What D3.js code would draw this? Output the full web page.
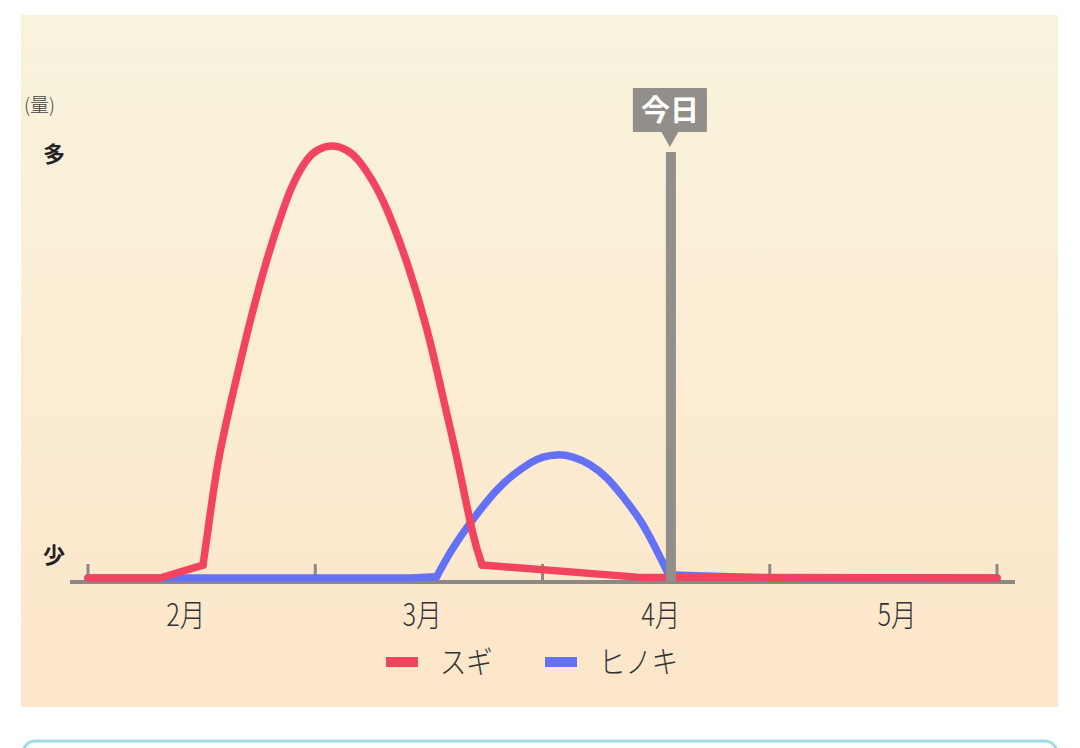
<!DOCTYPE html>
<html lang="ja">
<head>
    <meta charset="utf-8">
    <title>花粉の飛散量</title>
    <style>
        body { margin: 0; background: #fff; font-family: "Noto Sans CJK JP", sans-serif; }
    </style>
    <script type="text/javascript" src="https://d3js.org/d3.v7.min.js"></script>
</head>
<body>
    <div class="chart"></div>

    <script type="text/javascript">
        // DATA ------------------------------
        // x in month units (0 = left tick), y = relative amount 0..100
        const monthTicks = [0, 1, 2, 3, 4];
        const monthLabels = ["2月", "3月", "4月", "5月"];
        const monthLabelPos = [0.43, 1.47, 2.52, 3.56];

        const sugiX = [0, 0.317,
                       0.506, 0.528, 0.572, 0.634, 0.704, 0.783, 0.858, 0.911, 0.964, 1.012, 1.074,
                       1.135, 1.188, 1.250, 1.316, 1.404, 1.492, 1.562, 1.628, 1.690, 1.734,
                       2.416, 4];
        const sugiY = [0, 0,
                       3.0, 11.1, 26.6, 41.9, 57.4, 72.9, 85.2, 92.1, 96.8, 99.1, 100,
                       99.1, 96.8, 92.1, 85.2, 72.9, 57.4, 41.9, 26.6, 11.1, 3.0,
                       0.2, 0];
        const sugiSmooth = [2, 22];   // index range drawn as a smooth hump

        const hinokiX = [0, 1.417,
                         1.534, 1.593, 1.650, 1.725, 1.800, 1.870, 1.945, 2.002, 2.064,
                         2.134, 2.209, 2.284, 2.354, 2.429, 2.486, 2.530, 2.561,
                         2.570, 3.001, 4];
        const hinokiY = [0, 0,
                         0.3, 5.8, 10.4, 15.7, 20.4, 23.8, 26.6, 28.0, 28.5,
                         28.0, 26.2, 23.1, 18.8, 13.4, 8.1, 3.5, 0.2,
                         0.7, 0, 0];
        const hinokiSmooth = [2, 18];

        const seriesNames = ["スギ", "ヒノキ"];
        const seriesColors = ["#f2445f", "#6571f5"];

        const todayPos = 2.565;
        const todayTop = 98.6;
        const todayLabel = "今日";

        // CHART -----------------------------
        const W = 1080, H = 748;
        const svg = d3.select(".chart").append("svg")
            .attr("width", W)
            .attr("height", H);

        const defs = svg.append("defs");
        const grad = defs.append("linearGradient")
            .attr("id", "bg").attr("x1", 0).attr("y1", 0).attr("x2", 0).attr("y2", 1);
        grad.append("stop").attr("offset", "0%").attr("stop-color", "#f8f3dd");
        grad.append("stop").attr("offset", "100%").attr("stop-color", "#fde6c9");

        // panel
        svg.append("rect")
            .attr("x", 21).attr("y", 15)
            .attr("width", 1037).attr("height", 692)
            .attr("fill", "url(#bg)");

        // next box peeking in at the bottom
        svg.append("rect")
            .attr("x", 23).attr("y", 741)
            .attr("width", 1034).attr("height", 60)
            .attr("rx", 12)
            .attr("fill", "#fdfefe")
            .attr("stroke", "#a3dbe5")
            .attr("stroke-width", 3);

        const x = d3.scaleLinear().domain([0, 4]).range([88, 997]);
        const y = d3.scaleLinear().domain([0, 100]).range([578, 146]);

        const axisY = y(0) + 4;
        const grey = "#8c8885";

        // axis line
        svg.append("line")
            .attr("x1", 70).attr("x2", 1015)
            .attr("y1", axisY).attr("y2", axisY)
            .attr("stroke", grey).attr("stroke-width", 4);

        svg.selectAll(".tick")
            .data(monthTicks)
            .join("line")
            .attr("class", "tick")
            .attr("x1", d => x(d)).attr("x2", d => x(d))
            .attr("y1", axisY).attr("y2", axisY - 18)
            .attr("stroke", grey).attr("stroke-width", 3);

        svg.selectAll(".mlabel")
            .data(monthLabels)
            .join("text")
            .attr("class", "mlabel")
            .attr("transform", (d, i) => `translate(${x(monthLabelPos[i])},${axisY + 44}) scale(0.82,1)`)
            .attr("text-anchor", "middle")
            .attr("font-size", 31)
            .attr("font-weight", 300)
            .attr("fill", "#333")
            .text(d => d);

        // y labels
        svg.append("text")
            .attr("x", 24).attr("y", 112)
            .attr("font-size", 19)
            .attr("font-weight", 300)
            .attr("fill", "#444")
            .text("(量)");
        svg.append("text")
            .attr("x", 54).attr("y", y(100) + 16)
            .attr("text-anchor", "middle")
            .attr("font-size", 22).attr("font-weight", 700)
            .attr("fill", "#222")
            .text("多");
        svg.append("text")
            .attr("x", 54).attr("y", y(0) - 15)
            .attr("text-anchor", "middle")
            .attr("font-size", 22).attr("font-weight", 700)
            .attr("fill", "#222")
            .text("少");

        // curves: straight feet, smooth hump
        const straight = d3.line()
            .x(d => x(d[0]))
            .y(d => y(d[1]));
        const smooth = d3.line()
            .x(d => x(d[0]))
            .y(d => y(d[1]))
            .curve(d3.curveNatural);

        function drawSeries(xs, ys, range, color) {
            const pts = xs.map((v, i) => [v, ys[i]]);
            const parts = [
                [straight, pts.slice(0, range[0] + 1)],
                [smooth, pts.slice(range[0], range[1] + 1)],
                [straight, pts.slice(range[1])]
            ];
            const g = svg.append("g");
            parts.forEach(p => {
                g.append("path")
                    .datum(p[1])
                    .attr("d", p[0])
                    .attr("fill", "none")
                    .attr("stroke", color)
                    .attr("stroke-width", 7.5)
                    .attr("stroke-linejoin", "round")
                    .attr("stroke-linecap", "round");
            });
        }

        drawSeries(hinokiX, hinokiY, hinokiSmooth, seriesColors[1]);
        drawSeries(sugiX, sugiY, sugiSmooth, seriesColors[0]);

        // today marker
        const tx = x(todayPos);
        svg.append("line")
            .attr("x1", tx).attr("x2", tx)
            .attr("y1", axisY).attr("y2", y(todayTop))
            .attr("stroke", "#928e89").attr("stroke-width", 10);

        const boxW = 74, boxH = 44, boxTop = 88;
        svg.append("rect")
            .attr("x", tx - 1 - boxW / 2).attr("y", boxTop)
            .attr("width", boxW).attr("height", boxH)
            .attr("fill", "#928e89");
        svg.append("path")
            .attr("d", `M${tx - 10},${boxTop + boxH - 1} L${tx + 8},${boxTop + boxH - 1} L${tx - 1},${boxTop + boxH + 15} Z`)
            .attr("fill", "#928e89");
        svg.append("text")
            .attr("x", tx - 1).attr("y", boxTop + 33)
            .attr("text-anchor", "middle")
            .attr("font-size", 29).attr("font-weight", 700)
            .attr("fill", "#fff")
            .text(todayLabel);

        // legend
        const legX = [386, 545];
        const leg = svg.selectAll(".leg")
            .data(seriesNames)
            .join("g")
            .attr("class", "leg")
            .attr("transform", (d, i) => `translate(${legX[i]},662)`);
        leg.append("rect")
            .attr("x", 0).attr("y", -5)
            .attr("width", 32).attr("height", 10)
            .attr("fill", (d, i) => seriesColors[i]);
        leg.append("text")
            .attr("transform", "translate(54,11) scale(0.85,1)")
            .attr("font-size", 31)
            .attr("font-weight", 300)
            .attr("fill", "#333")
            .text(d => d);
    </script>
</body>
</html>
